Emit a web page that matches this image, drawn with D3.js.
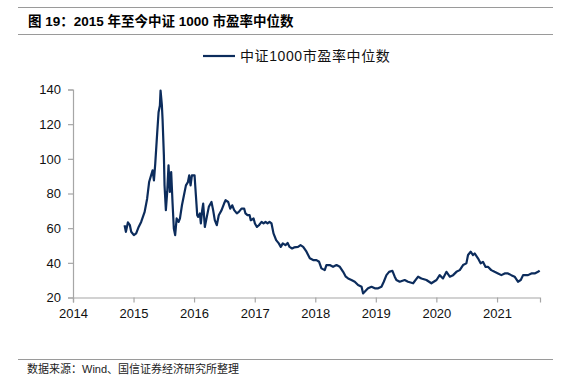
<!DOCTYPE html>
<html>
<head>
<meta charset="utf-8">
<script src="https://cdn.jsdelivr.net/npm/d3@7/dist/d3.min.js"></script>
<style>
  html, body { margin: 0; padding: 0; background: #fff; }
  svg { display: block; }
</style>
</head>
<body>
<svg id="chart" width="571" height="382"></svg>
<script>
const titleText = "图 19：2015 年至今中证 1000 市盈率中位数";
const seriesName = "中证1000市盈率中位数";
const sourceText = "数据来源：Wind、国信证券经济研究所整理";

const dates = [
  "2014-11-08","2014-11-16","2014-11-28","2014-12-10","2014-12-18",
  "2015-01-03","2015-01-17","2015-02-01","2015-02-16","2015-03-09","2015-03-24",
  "2015-04-05","2015-04-17","2015-04-26","2015-05-04","2015-05-12","2015-05-24",
  "2015-06-01","2015-06-09","2015-06-13","2015-06-21","2015-06-25","2015-07-03",
  "2015-07-07","2015-07-15","2015-07-23","2015-07-31","2015-08-08","2015-08-16",
  "2015-08-24","2015-09-01","2015-09-09","2015-09-18","2015-09-30","2015-10-08",
  "2015-10-20","2015-11-01","2015-11-13","2015-11-25","2015-12-03","2015-12-11",
  "2015-12-19","2016-01-04","2016-01-12","2016-01-20","2016-01-26","2016-02-05",
  "2016-02-11","2016-02-19","2016-02-25","2016-03-06","2016-03-18","2016-03-30",
  "2016-04-15","2016-04-25","2016-05-05","2016-05-17","2016-05-29","2016-06-15",
  "2016-06-30","2016-07-09","2016-07-25","2016-08-06","2016-08-18","2016-08-30",
  "2016-09-15","2016-09-27","2016-10-13","2016-10-29","2016-11-06","2016-11-18",
  "2016-12-01","2016-12-08","2016-12-25","2017-01-02","2017-01-14","2017-01-26",
  "2017-02-11","2017-02-23","2017-03-07","2017-03-19","2017-03-31","2017-04-12",
  "2017-04-24","2017-05-10","2017-05-26","2017-06-07","2017-06-19","2017-07-05",
  "2017-07-18","2017-07-30","2017-08-14","2017-08-26","2017-09-19","2017-10-04",
  "2017-10-20","2017-11-09","2017-11-29","2017-12-19","2018-01-08","2018-01-24",
  "2018-02-07","2018-02-27","2018-03-09","2018-03-29","2018-04-18","2018-05-09",
  "2018-05-29","2018-06-18","2018-07-04","2018-07-18","2018-08-07","2018-08-27",
  "2018-09-16","2018-10-07","2018-10-16","2018-10-26","2018-11-15","2018-12-06",
  "2018-12-26","2019-01-15","2019-02-04","2019-02-18","2019-03-06","2019-03-22",
  "2019-04-11","2019-04-25","2019-05-05","2019-05-25","2019-06-24","2019-07-14",
  "2019-08-14","2019-09-13","2019-10-03","2019-11-02","2019-12-02","2020-01-02",
  "2020-01-21","2020-02-10","2020-03-02","2020-03-22","2020-04-11","2020-05-01",
  "2020-05-21","2020-06-10","2020-06-30","2020-07-10","2020-07-26","2020-08-09",
  "2020-08-19","2020-09-08","2020-09-24","2020-10-08","2020-10-23","2020-11-07",
  "2020-11-27","2020-12-17","2021-01-07","2021-01-27","2021-02-16","2021-03-08",
  "2021-03-28","2021-04-17","2021-05-07","2021-05-24","2021-06-07","2021-07-07",
  "2021-07-27","2021-08-16","2021-09-05","2021-09-15"
];

const peValues = [
  61.7, 57.9, 63.3, 61.7, 57.9,
  56.0, 57.0, 60.7, 63.6, 69.4, 77.0,
  86.6, 90.5, 93.4, 87.6, 97.2, 115.4,
  126.9, 130.8, 139.4, 130.8, 123.0, 102.0,
  84.7, 70.4, 80.9, 96.3, 80.9, 92.4,
  75.1, 59.8, 56.0, 65.6, 63.6, 65.6,
  73.2, 79.0, 84.7, 86.6, 90.5, 84.7,
  90.5, 90.5, 79.0, 67.5, 66.5, 68.5,
  62.7, 70.4, 74.2, 60.7, 66.5, 72.3,
  75.1, 70.4, 64.6, 61.7, 67.5, 70.4,
  74.2, 76.1, 75.1, 71.3, 73.2, 70.4,
  68.5, 69.4, 71.3, 71.3, 68.5, 67.5,
  67.5, 64.6, 65.6, 62.7, 60.7, 61.7,
  63.6, 62.7, 63.6, 62.7, 63.6, 62.7,
  57.0, 53.1, 51.2, 49.2, 51.2, 50.2,
  51.5, 49.2, 48.3, 48.9, 49.2, 50.2,
  49.2, 46.4, 42.6, 41.6, 41.6, 40.6,
  36.8, 35.8, 38.7, 38.7, 37.7, 38.7,
  37.7, 34.8, 32.0, 31.0, 30.1, 29.1,
  27.2, 26.2, 22.4, 23.3, 25.3, 26.2,
  25.3, 25.3, 26.2, 29.1, 32.9, 34.8,
  35.4, 32.0, 30.1, 29.1, 30.1, 29.1,
  28.2, 32.0, 31.0, 30.1, 28.2, 30.1,
  32.9, 31.0, 34.8, 32.0, 32.9, 34.8,
  35.8, 38.7, 39.7, 44.5, 46.4, 44.5,
  45.4, 42.6, 39.7, 40.6, 37.7, 37.7,
  35.8, 34.8, 33.9, 32.9, 33.9, 33.9,
  32.9, 32.0, 29.1, 30.1, 32.9, 32.9,
  33.9, 33.9, 34.8, 35.5
];

const yTicks = [20, 40, 60, 80, 100, 120, 140];
const xTickLabels = ["2014","2015","2016","2017","2018","2019","2020","2021"];
const xDomain = ["2014-01-01", "2021-09-17"];
const yDomain = [20, 140];

const parse = d3.timeParse("%Y-%m-%d");
const data = dates.map((d, i) => ({ date: parse(d), value: peValues[i] }));

const svg = d3.select("#chart");
const cjk = "'Liberation Sans', Arial, 'Noto Sans CJK SC', sans-serif";
const axisColor = "#a6a6a6";
const lineColor = "#0c2c5c";

const margin = { left: 73, right: 540, top: 89.5, bottom: 297.5 };

const x = d3.scaleTime().domain(xDomain.map(parse)).range([margin.left, margin.right]);
const y = d3.scaleLinear().domain(yDomain).range([margin.bottom, margin.top]);

// header / footer rules
svg.append("line").attr("x1", 18).attr("x2", 553).attr("y1", 7.5).attr("y2", 7.5)
  .attr("stroke", "#9a9a9a").attr("stroke-width", 1);
svg.append("line").attr("x1", 18).attr("x2", 553).attr("y1", 34.5).attr("y2", 34.5)
  .attr("stroke", "#9a9a9a").attr("stroke-width", 1);
svg.append("line").attr("x1", 18).attr("x2", 553).attr("y1", 359.5).attr("y2", 359.5)
  .attr("stroke", "#9a9a9a").attr("stroke-width", 1);

svg.append("text").attr("x", 28).attr("y", 26)
  .attr("font-family", cjk).attr("font-weight", "bold").attr("font-size", 13.5)
  .attr("fill", "#000").text(titleText);

svg.append("text").attr("x", 27).attr("y", 373)
  .attr("font-family", cjk).attr("font-size", 11)
  .attr("fill", "#222").text(sourceText);

// legend
svg.append("line").attr("x1", 203).attr("x2", 235).attr("y1", 56).attr("y2", 56)
  .attr("stroke", lineColor).attr("stroke-width", 2.2);
svg.append("text").attr("x", 240).attr("y", 61)
  .attr("font-family", cjk).attr("font-size", 14).attr("letter-spacing", 0.6)
  .attr("fill", "#111").text(seriesName);

// axes
const yAxis = d3.axisLeft(y).tickValues(yTicks).tickSize(5).tickPadding(7);
const gy = svg.append("g").attr("transform", `translate(${margin.left},0)`).call(yAxis);
const xAxis = d3.axisBottom(x)
  .tickValues(xTickLabels.map(s => parse(s + "-01-01")))
  .tickFormat(d3.timeFormat("%Y")).tickSize(5).tickPadding(6);
const gx = svg.append("g").attr("transform", `translate(0,${margin.bottom})`).call(xAxis);

[gx, gy].forEach(g => {
  g.select(".domain").attr("stroke", axisColor).attr("stroke-width", 1.2);
  g.selectAll(".tick line").attr("stroke", axisColor).attr("stroke-width", 1.2);
  g.selectAll(".tick text").attr("font-family", "'Liberation Sans', Arial, sans-serif")
    .attr("font-size", 13).attr("fill", "#111");
});

// series
const line = d3.line().x(d => x(d.date)).y(d => y(d.value)).curve(d3.curveLinear);
svg.append("path").datum(data).attr("d", line)
  .attr("fill", "none").attr("stroke", lineColor).attr("stroke-width", 2.2)
  .attr("stroke-linejoin", "round");
</script>
</body>
</html>
